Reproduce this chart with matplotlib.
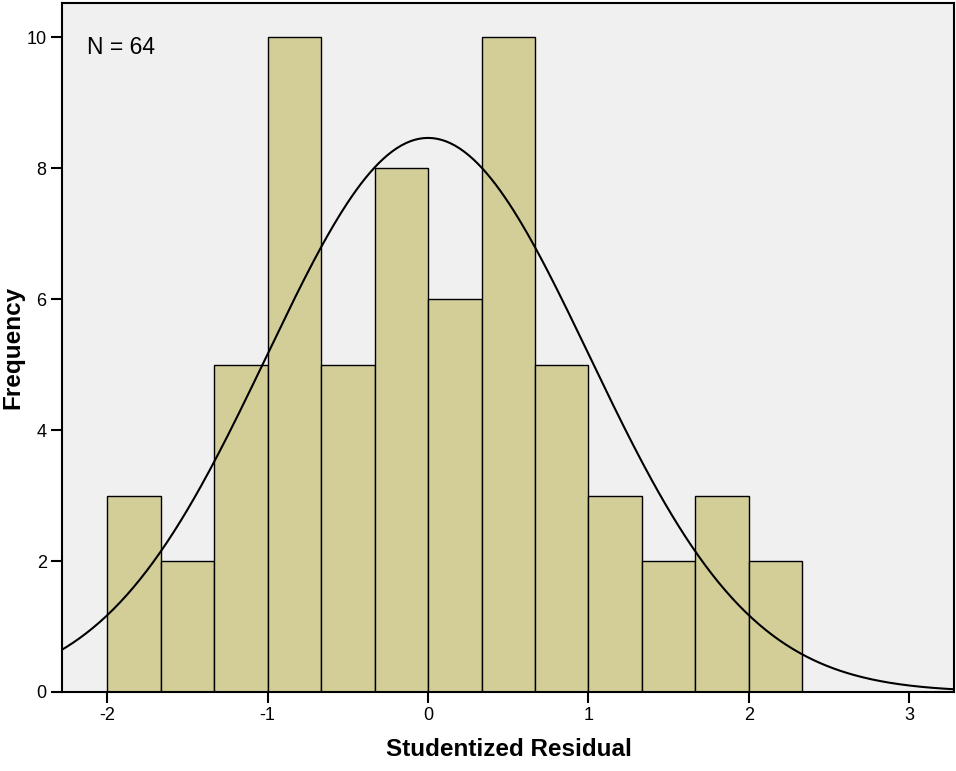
import numpy as np
import matplotlib.pyplot as plt

plt.rcParams['font.family'] = ['Liberation Sans', 'DejaVu Sans']

# histogram bins (edges) and counts
bin_edges = [-2.0, -1.6667, -1.3333, -1.0, -0.6667, -0.3333, 0.0,
             0.3333, 0.6667, 1.0, 1.3333, 1.6667, 2.0, 2.3333]
counts = [3, 2, 5, 10, 5, 8, 6, 10, 5, 3, 2, 3, 2]

# fitted normal curve parameters
resid_mean = 0.0
resid_sd = 1.006
n_obs = 64

x_ticks = [-2, -1, 0, 1, 2, 3]
y_ticks = [0, 2, 4, 6, 8, 10]

fig = plt.figure(figsize=(9.56, 7.71), dpi=100)
ax = fig.add_axes([62 / 956, 1 - 692 / 771, (954 - 62) / 956, (692 - 3) / 771])
ax.set_facecolor('#F0F0F0')

edges = np.array(bin_edges)
widths = np.diff(edges)
ax.bar(edges[:-1], counts, width=widths, align='edge',
       color='#D3CE98', edgecolor='black', linewidth=1.0, zorder=2)

# normal curve scaled to counts
bw = widths.mean()
xs = np.linspace(-2.3, 3.3, 400)
ys = n_obs * bw / (resid_sd * np.sqrt(2 * np.pi)) * np.exp(-0.5 * ((xs - resid_mean) / resid_sd) ** 2)
ax.plot(xs, ys, color='black', linewidth=1.5, zorder=3)

ax.set_xlim(-2.282, 3.279)
ax.set_ylim(0, 10.52)
ax.set_xticks(x_ticks)
ax.set_xticklabels([str(t) for t in x_ticks])
ax.set_yticks(y_ticks)
ax.set_yticklabels([str(t) for t in y_ticks])

for s in ax.spines.values():
    s.set_linewidth(1.5)
ax.tick_params(axis='both', direction='out', length=8, width=1.5, labelsize=13, pad=3)

fig.text(509 / 956, 1 - 750 / 771, 'Studentized Residual', fontsize=17.5,
         fontweight='bold', ha='center', va='center')
fig.text(13 / 956, 1 - 347 / 771, 'Frequency', fontsize=17.5, fontweight='bold',
         ha='center', va='center', rotation=90)

ax.text(0.028, 0.936, f'N = {n_obs}', transform=ax.transAxes, fontsize=16.5,
        va='center', ha='left')

fig.savefig('out.png', dpi=100)
